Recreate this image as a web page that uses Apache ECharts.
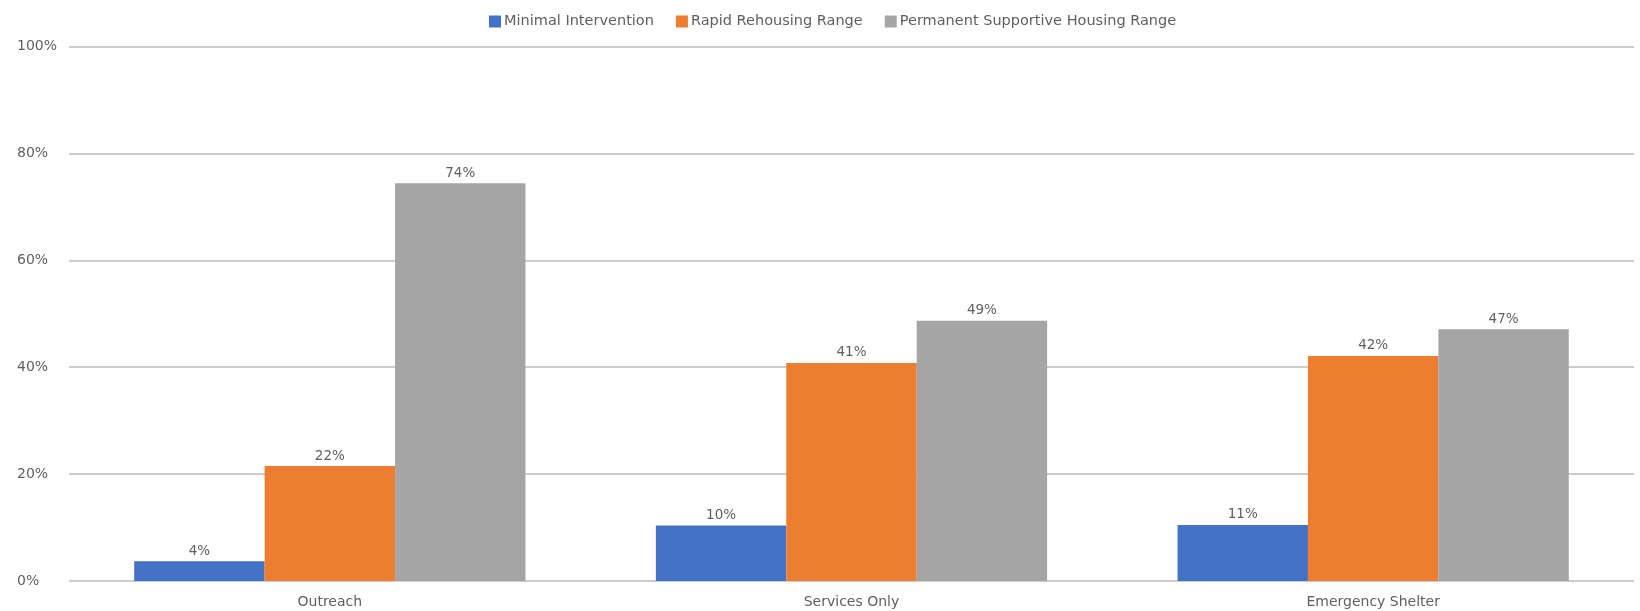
<!DOCTYPE html>
<html>
<head>
<meta charset="utf-8">
<script src="https://cdn.jsdelivr.net/npm/echarts@6/dist/echarts.min.js"></script>
<style>
html,body{margin:0;padding:0;background:#fff;}
#chart{width:1640px;height:611px;}
</style>
</head>
<body>
<div id="chart"></div>
<script>
const categories = ['Outreach', 'Services Only', 'Emergency Shelter'];
const seriesNames = ['Minimal Intervention', 'Rapid Rehousing Range', 'Permanent Supportive Housing Range'];
const minimalIntervention = [3.7, 10.4, 10.5];
const rapidRehousing = [21.5, 40.8, 42.1];
const permanentSupportive = [74.4, 48.7, 47.1];
const seriesColors = ['#4472C4', '#ED7D31', '#A5A5A5'];
const yTicks = [0, 20, 40, 60, 80, 100];

const font = 'DejaVu Sans';
const textColor = '#5f5f5f';

const chart = echarts.init(document.getElementById('chart'));
const valuesList = [minimalIntervention, rapidRehousing, permanentSupportive];

chart.setOption({
  animation: false,
  backgroundColor: '#ffffff',
  textStyle: { fontFamily: font },
  legend: {
    top: 9,
    left: 484,
    itemWidth: 12,
    itemHeight: 12,
    itemGap: 22,
    icon: 'rect',
    textStyle: { fontFamily: font, fontSize: 14.5, color: textColor, padding: [0, 0, 0, -2] },
    data: seriesNames
  },
  grid: { left: 69, right: 6, top: 46.5, bottom: 30, containLabel: false },
  xAxis: {
    type: 'category',
    data: categories,
    axisLine: { show: false },
    axisTick: { show: false },
    axisLabel: { fontFamily: font, fontSize: 14, color: textColor, margin: 14 }
  },
  yAxis: {
    type: 'value',
    min: yTicks[0],
    max: yTicks[yTicks.length - 1],
    interval: yTicks[1] - yTicks[0],
    axisLine: { show: false },
    axisTick: { show: false },
    splitLine: { lineStyle: { color: '#cccccc', width: 2 } },
    axisLabel: {
      fontFamily: font, fontSize: 14, color: textColor,
      align: 'left', margin: 52,
      formatter: v => v + '%'
    }
  },
  series: seriesNames.map((name, i) => ({
    name: name,
    type: 'bar',
    data: valuesList[i],
    barGap: '0%',
    barCategoryGap: '25%',
    itemStyle: { color: seriesColors[i] },
    label: {
      show: true,
      position: 'top',
      distance: 3,
      fontFamily: font,
      fontSize: 13.5,
      color: textColor,
      formatter: p => Math.round(p.value) + '%'
    }
  }))
});
</script>
</body>
</html>
